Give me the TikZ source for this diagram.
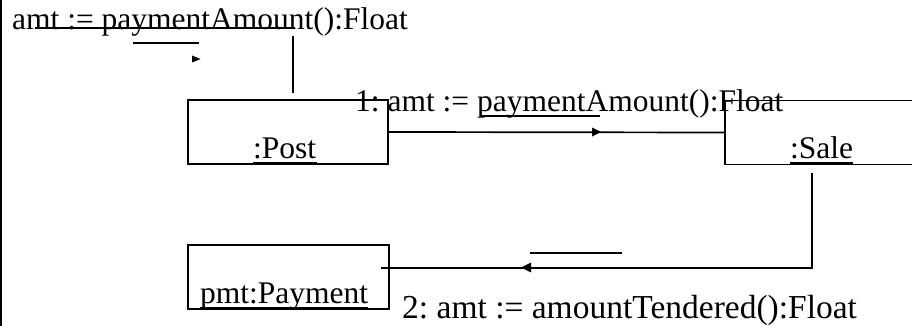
\documentclass[tikz,border=0pt]{standalone}
\usepackage{fontspec}
\setmainfont{Liberation Serif}
\frenchspacing
\begin{document}
\begin{tikzpicture}[x=1pt,y=-1pt,
  objbox/.style={draw,line width=1.7pt,minimum width=#1,minimum height=64pt,inner sep=0pt},
  txt/.style={anchor=base west,inner sep=0pt,font=\fontsize{31.5}{36}\selectfont},
  bigtxt/.style={anchor=base west,inner sep=0pt,font=\fontsize{33.5}{38}\selectfont},
  ln/.style={line width=1.7pt}]
\useasboundingbox (0,0) rectangle (912,326);
\clip (0,0) rectangle (912,326);
% left border
\draw[line width=2.5pt] (1,0) -- (1,326);
% boxes
\node[objbox=200pt] (post) at (288,132) {};
\node[objbox=210pt] (sale) at (830,132.5) {};
\node[objbox=201pt] (pay) at (288.5,277) {};
% box labels
\node[txt] (posttxt) at (253,158) {:Post};
\node[txt] (saletxt) at (790,158) {:Sale};
\node[txt] (paytxt) at (200,303) {pmt:Payment};
\draw[ln] (posttxt.base west) ++(0,5) -- ++(64,0);
\draw[ln] (saletxt.base west) ++(0,5) -- ++(63,0);
\draw[ln] (paytxt.base west) ++(0,5) -- ++(168,0);
% top stray message
\node[txt] (topmsg) at (12,30) {amt := paymentAmount():Float};
\coordinate (s1) at (35,28);
\coordinate (s2) at (295,28);
\draw[ln] (s1) -- (s2);
\coordinate (v1) at (293,36);
\coordinate (v2) at (293,93);
\draw[ln] (v1) -- (v2);
\coordinate (u1) at (133,43);
\coordinate (u2) at (199,43);
\draw[ln] (u1) -- (u2);
\coordinate (a1) at (192,55.5);
\fill (a1) -- ++(8.5,3.5) -- ++(-8.5,3.5) -- cycle;
% message 1
\draw[ln] (post.east) -- (sale.west);
\coordinate (m1tip) at (601,132);
\fill (m1tip) -- ++(-9,-4.5) -- ++(0,9) -- cycle;
\node[txt] (msg1) at (355,112) {1: amt := paymentAmount():Float};
\coordinate (m1u1) at (482,116);
\coordinate (m1u2) at (600,116);
\draw[ln] (m1u1) -- (m1u2);
% message 2
\coordinate (sdrop) at (812,173);
\coordinate (pin) at (381,268);
\draw[ln] (sdrop) |- (pin);
\coordinate (m2tip) at (521,267.5);
\fill (m2tip) -- ++(10,-5) -- ++(0,10) -- cycle;
\coordinate (m2o1) at (530,253);
\coordinate (m2o2) at (622,253);
\draw[ln] (m2o1) -- (m2o2);
\node[bigtxt] (msg2) at (402,318) {2: amt := amountTendered():Float};
\end{tikzpicture}
\end{document}
